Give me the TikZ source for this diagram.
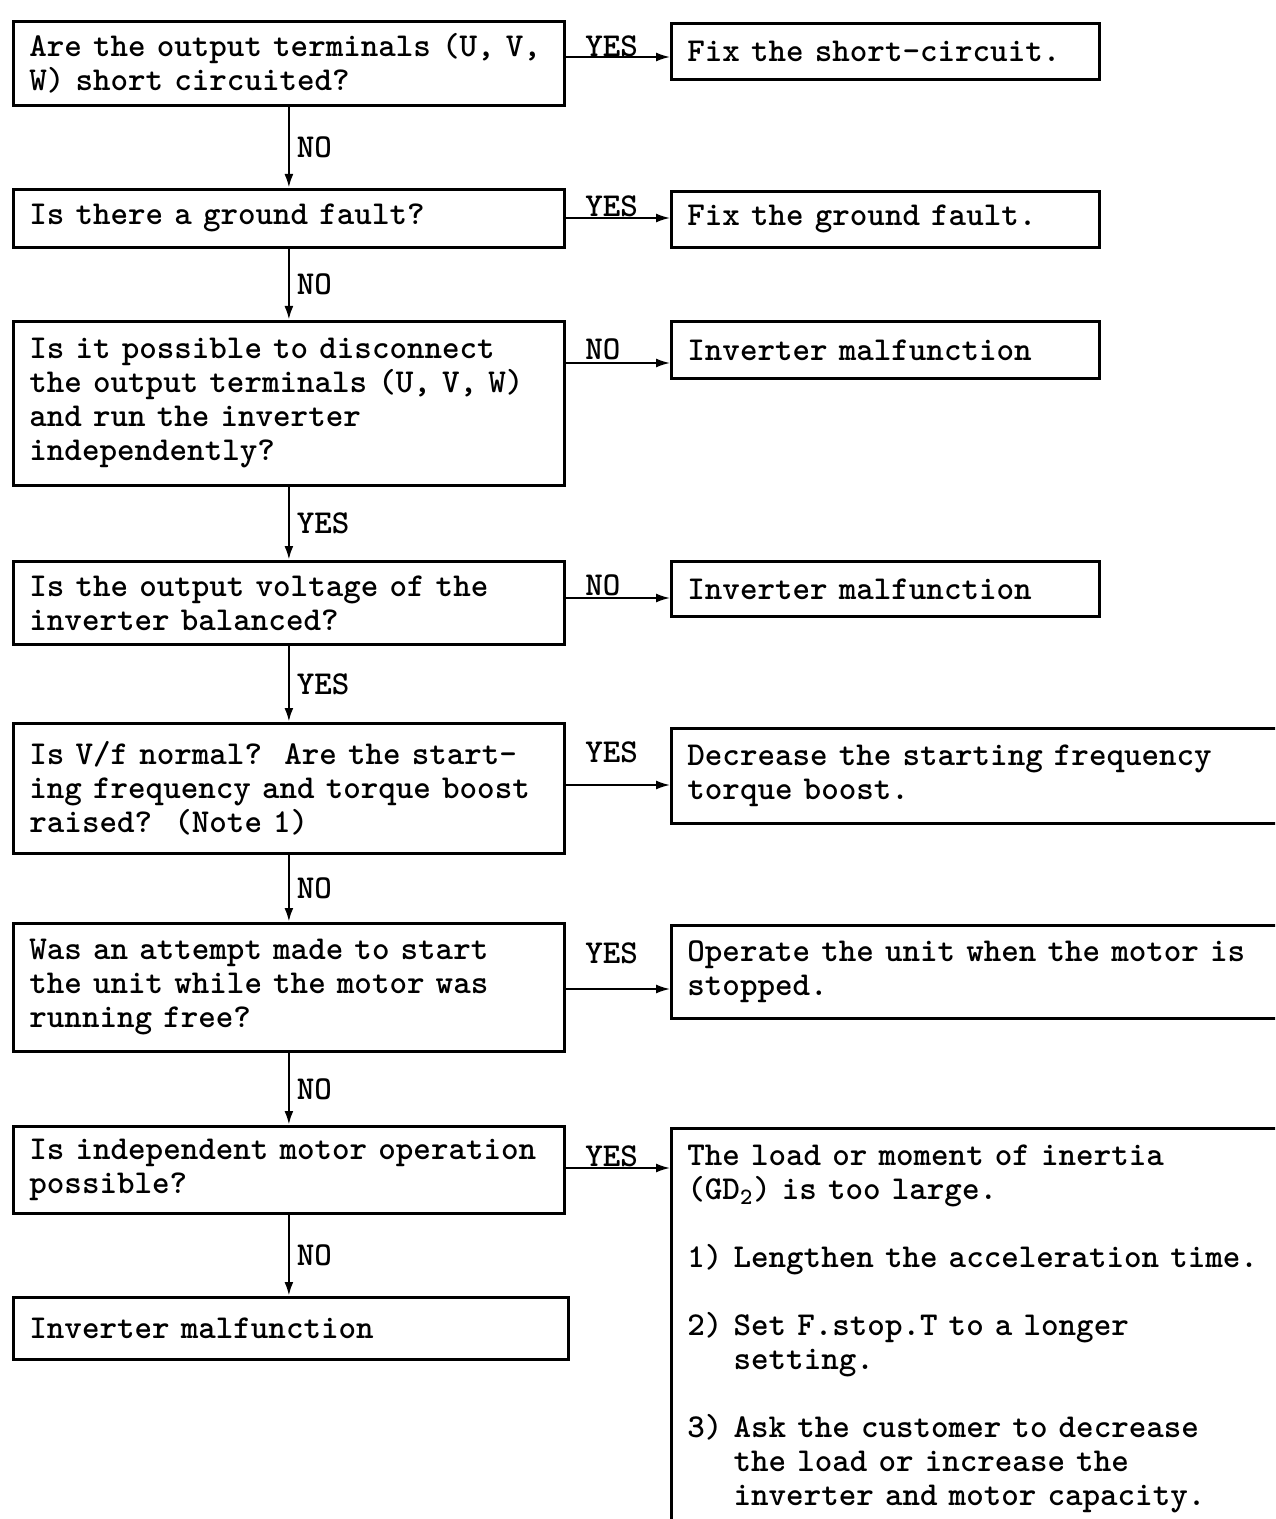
\documentclass[tikz,border=0pt]{standalone}
\usepackage{fontspec}
\usetikzlibrary{arrows.meta}
\newcommand\flowfont{\fontsize{16.7pt}{17pt}\selectfont\ttfamily\bfseries}
\begin{document}
\begin{tikzpicture}[x=0.5pt,y=-0.5pt,
  every node/.style={font=\flowfont},
  qbox/.style={draw, line width=1.4pt, anchor=north west, inner xsep=8pt,
    inner ysep=0pt, align=left, text width=259.5pt, minimum height=#1},
  rbox/.style={draw, line width=1.4pt, anchor=north west, inner xsep=8pt,
    inner ysep=0pt, align=left, text width=198pt, minimum height=#1},
  wbox/.style={draw, line width=1.4pt, anchor=north west, inner xsep=8pt,
    inner ysep=0pt, align=left, text width=334pt, minimum height=#1},
  varr/.style={line width=1.3pt, -{Latex[length=7pt,width=4.5pt]}},
  harr/.style={line width=0.9pt, -{Latex[length=7pt,width=4.5pt]}},
  lbl/.style={anchor=west, inner sep=0pt},
]
\useasboundingbox (0,0) rectangle (1275,1519);
\clip (0,0) rectangle (1275,1519);
\fill[white] (0,0) rectangle (1275,1519);

% decision boxes (left column)
\node[qbox=42pt] (q1) at (12,20) {Are the output terminals (U, V,\\W) short circuited?};
\node[qbox=29pt] (q2) at (12,188) {Is there a ground fault?};
\node[qbox=82pt] (q3) at (12,320) {Is it possible to disconnect\\the output terminals (U, V, W)\\and run the inverter\\independently?};
\node[qbox=41.5pt] (q4) at (12,560) {Is the output voltage of the\\inverter balanced?};
\node[qbox=65pt] (q5) at (12,722) {Is V/f normal?\ \ Are the start-\\ing frequency and torque boost\\raised?\ \ (Note 1)};
\node[qbox=64pt] (q6) at (12,922) {Was an attempt made to start\\the unit while the motor was\\running free?};
\node[qbox=43.5pt] (q7) at (12,1125) {Is independent motor operation\\possible?};
\node[qbox=31pt, text width=261.5pt] (q8) at (12,1296) {Inverter malfunction};

% remedy boxes (right column)
\node[rbox=28pt] (r1) at (670,22) {Fix the short-circuit.};
\node[rbox=28pt] (r2) at (670,190) {Fix the ground fault.};
\node[rbox=28.5pt] (r3) at (670,320) {Inverter malfunction};
\node[rbox=27.5pt] (r4) at (670,560) {Inverter malfunction};
\node[wbox=47.5pt] (r5) at (670,727) {Decrease the starting frequency\\torque boost.};
\node[wbox=46.5pt] (r6) at (670,924) {Operate the unit when the motor is\\stopped.};
\node[wbox=200pt] (r7) at (670,1127) {The load or moment of inertia\\(GD\textsubscript{2}) is too large.\\[17pt]1) Lengthen the acceleration time.\\[17pt]2) Set F.stop.T to a longer\\\phantom{2) }setting.\\[17pt]3) Ask the customer to decrease\\\phantom{3) }the load or increase the\\\phantom{3) }inverter and motor capacity.};

% main flow
\draw[varr] (q1.south) -- node[right] {NO} (q2.north);
\draw[varr] (q2.south) -- node[right] {NO} (q3.north);
\draw[varr] (q3.south) -- node[right] {YES} (q4.north);
\draw[varr] (q4.south) -- node[right] {YES} (q5.north);
\draw[varr] (q5.south) -- node[right] {NO} (q6.north);
\draw[varr] (q6.south) -- node[right] {NO} (q7.north);
\draw[varr] (q7.south) -- node[right] {NO} (q7.south |- q8.north);

% branch heights
\coordinate (h1) at (0,57);
\coordinate (h2) at (0,218);
\coordinate (h3) at (0,363);
\coordinate (h4) at (0,598);
\coordinate (h5) at (0,785);
\coordinate (h6) at (0,989);
\coordinate (h7) at (0,1168);

\draw[harr] (q1.east |- h1) -- (r1.west |- h1);
\draw[harr] (q2.east |- h2) -- (r2.west |- h2);
\draw[harr] (q3.east |- h3) -- (r3.west |- h3);
\draw[harr] (q4.east |- h4) -- (r4.west |- h4);
\draw[harr] (q5.east |- h5) -- (r5.west |- h5);
\draw[harr] (q6.east |- h6) -- (r6.west |- h6);
\draw[harr] (q7.east |- h7) -- (r7.west |- h7);

% branch labels
\node[lbl] (l1) at (585,46) {YES};
\node[lbl] (l2) at (585,206) {YES};
\node[lbl] (l3) at (585,349) {NO};
\node[lbl] (l4) at (585,585) {NO};
\node[lbl] (l5) at (585,752) {YES};
\node[lbl] (l6) at (585,953) {YES};
\node[lbl] (l7) at (585,1156) {YES};
\end{tikzpicture}
\end{document}
